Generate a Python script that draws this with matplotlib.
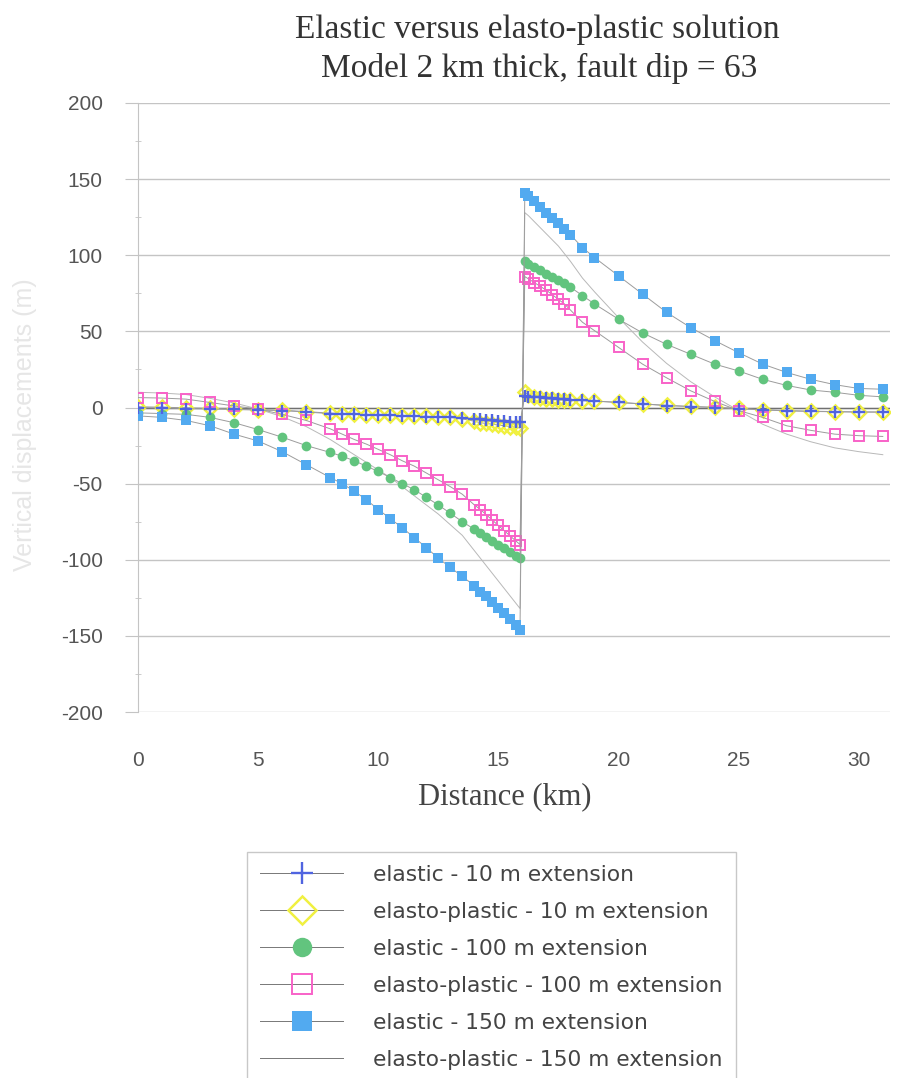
import matplotlib
matplotlib.use("Agg")
import matplotlib.pyplot as plt
from matplotlib.ticker import MultipleLocator

plt.rcParams["axes.unicode_minus"] = False

# distance along profile (km): left of fault, then right of fault
distance = [0, 1, 2, 3, 4, 5, 6, 7, 8, 8.5, 9, 9.5, 10, 10.5, 11, 11.5, 12, 12.5, 13, 13.5, 14,
            14.25, 14.5, 14.75, 15, 15.25, 15.5, 15.75, 15.9,
            16.1, 16.25, 16.5, 16.75, 17, 17.25, 17.5, 17.75, 18, 18.5,
            19, 20, 21, 22, 23, 24, 25, 26, 27, 28, 29, 30, 31]

elastic_10 = [0, -0.3, -0.7, -1, -1.3, -1.7, -2, -3, -4, -4.2, -4.5, -4.8, -5, -5.2, -5.5, -5.8, -6, -6.3, -6.5, -7, -7.5,
              -7.8, -8, -8.3, -8.6, -8.9, -9.2, -9.5, -9.7,
              7.5, 7.2, 7, 6.7, 6.4, 6, 5.7, 5.4, 5, 4.6,
              4.2, 3.3, 2.3, 1.3, 0.6, 0, -0.8, -1.6, -2.2, -2.6, -2.8, -3, -3]

elastoplastic_10 = [0.5, 0.2, -0.2, -0.6, -1, -1.4, -1.8, -2.7, -3.7, -4, -4.3, -4.6, -4.8, -5, -5.3, -5.6, -5.8, -6.1, -6.5, -7.5, -9,
                    -10, -10.5, -11, -11.5, -12, -12.5, -13, -13.5,
                    10, 8.5, 7, 6, 5.5, 5.3, 5.1, 5, 4.8, 4.5,
                    4.2, 3.4, 2.4, 1.4, 0.7, 0.1, -0.6, -1.4, -2, -2.4, -2.7, -2.9, -3]

elastic_100 = [-3.5, -4, -4.5, -6.5, -10, -14.5, -19.5, -25, -29.5, -32, -35, -38.5, -42, -46, -50, -54, -59, -64, -69.5, -75, -80,
               -82.5, -85, -87.5, -90, -92.5, -95, -97.5, -99,
               96, 94.5, 92.5, 90, 88, 86, 83.5, 81.5, 79, 73.5,
               68, 58, 49, 41.5, 35, 28.5, 24, 18.5, 14.5, 11.5, 10, 8, 7]

elastoplastic_100 = [6.5, 6.2, 5.5, 3.3, 1, -1, -4.5, -8.5, -14, -17.5, -21, -24, -27.5, -31, -35, -38.5, -43, -47.5, -52, -57, -64,
                     -67, -70.5, -74, -77.5, -81, -84.5, -88, -90,
                     86, 84.5, 82, 79.5, 77, 74, 71, 68, 64, 56,
                     50.5, 39.5, 28.5, 19.5, 11, 4, -2, -6.5, -12, -15, -17.5, -18.5, -19]

elastic_150 = [-5.5, -6.5, -8.5, -12, -17.5, -22, -29, -37.5, -46, -50, -55, -60.5, -67, -73, -79, -85.5, -92, -99, -105, -111, -117,
               -121, -124, -128, -132, -135, -139, -143, -146,
               141, 139, 135.5, 132, 128, 124.5, 121, 117, 113.5, 105,
               98.5, 86.5, 74.5, 62.5, 52.5, 44, 36, 28.5, 23, 18.5, 15, 12.5, 12]

elastoplastic_150 = [10, 9.5, 8.5, 6, 3, -1, -6, -12.5, -21, -26, -31, -36, -41, -46, -52, -58, -64, -70, -77, -84, -94,
                     -99, -104, -109, -114, -119, -124, -129, -132,
                     128, 126, 122, 118, 114, 110, 106, 101, 96, 85,
                     76, 59, 43, 29, 17, 7, -2, -11, -17.5, -22.5, -26.5, -29, -31]

labels = ["elastic - 10 m extension", "elasto-plastic - 10 m extension",
          "elastic - 100 m extension", "elasto-plastic - 100 m extension",
          "elastic - 150 m extension", "elasto-plastic - 150 m extension"]

line_c = "#9c9c9c"
grid_c = "#c4c4c4"

fig = plt.figure(figsize=(9.06, 10.78), dpi=100)
ax = fig.add_axes([138/906, 1-712/1078, (890-138)/906, (712-103)/1078])

ax.axhline(0, color="#707070", lw=1.0, zorder=1.5)

l1, = ax.plot(distance, elastic_10, color=line_c, lw=0.7, marker="+", ms=8, mew=1.7,
              mec="#5064e0", label=labels[0], zorder=4)
l2, = ax.plot(distance, elastoplastic_10, color=line_c, lw=0.7, marker="D", ms=7, mew=1.8,
              mfc="none", mec="#f0f040", label=labels[1], zorder=3)
l3, = ax.plot(distance, elastic_100, color=line_c, lw=0.7, marker="o", ms=7, mew=0,
              mfc="#62c47e", label=labels[2], zorder=3)
l4, = ax.plot(distance, elastoplastic_100, color=line_c, lw=0.7, marker="s", ms=7, mew=1.4,
              mfc="none", mec="#f862c8", label=labels[3], zorder=3)
l5, = ax.plot(distance, elastic_150, color=line_c, lw=0.7, marker="s", ms=7.5, mew=0,
              mfc="#52aaf0", label=labels[4], zorder=3)
l6, = ax.plot(distance, elastoplastic_150, color="#b8b8b8", lw=0.7, label=labels[5], zorder=2)

ax.set_xlim(0, 31.3)
ax.set_ylim(-200, 200)
ax.set_yticks(range(-200, 201, 50))
ax.yaxis.set_minor_locator(MultipleLocator(25))
ax.set_xticks([0, 5, 10, 15, 20, 25, 30])
ax.grid(axis="y", color=grid_c, lw=1.0)
ax.set_axisbelow(True)

for s in ["top", "right", "bottom"]:
    ax.spines[s].set_visible(False)
ax.spines["left"].set_color(grid_c)

ax.tick_params(axis="y", which="major", direction="out", length=9.4, color=grid_c,
               pad=16, labelsize=15, labelcolor="#555555")
ax.tick_params(axis="y", which="minor", direction="inout", length=5, color=grid_c)
ax.tick_params(axis="x", length=0, pad=28, labelsize=15, labelcolor="#555555")
for t in ax.get_xticklabels() + ax.get_yticklabels():
    t.set_family("Liberation Sans")

fig.text(537/906, 1-30/1078, "Elastic versus elasto-plastic solution", ha="center", va="center",
         fontsize=24, family="Liberation Serif", color="#333333")
fig.text(539/906, 1-68/1078, "Model 2 km thick, fault dip = 63", ha="center", va="center",
         fontsize=24, family="Liberation Serif", color="#333333")
fig.text(505/906, 1-797/1078, "Distance (km)", ha="center", va="center",
         fontsize=22, family="Liberation Serif", color="#444444")
fig.text(25/906, 1-425/1078, "Vertical displacements (m)", ha="center", va="center",
         rotation=90, fontsize=18, family="Liberation Sans", color="#e6e6e6")

leg = fig.legend([l1, l2, l3, l4, l5, l6], labels, loc="upper left",
                 bbox_to_anchor=(247/906, 1-852/1078), borderaxespad=0,
                 frameon=True, fancybox=False,
                 edgecolor="#bbbbbb", prop={"family": "DejaVu Sans", "size": 15.7},
                 labelspacing=0.78, handlelength=3.8, handletextpad=1.4, borderpad=0.6,
                 markerscale=2.0)
leg.get_frame().set_linewidth(1.0)
for t in leg.get_texts():
    t.set_color("#444444")
for h in leg.get_lines():
    h.set_color("#777777")

fig.savefig("out.png", dpi=100)
